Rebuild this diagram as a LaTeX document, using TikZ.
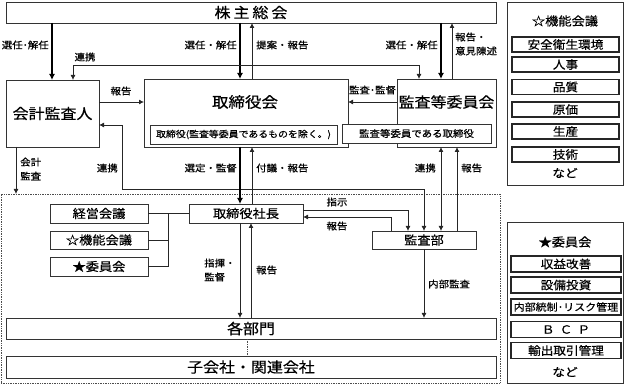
\documentclass[tikz,border=0pt]{standalone}
\usepackage{fontspec}
\setmainfont[FakeStretch=1.1,FakeBold=0.5]{Noto Sans CJK JP}
\usetikzlibrary{arrows.meta}
\newcommand\myfs[1]{\fontsize{#1}{#1}\selectfont}
\tikzset{
 bx/.style={draw=black!80, line width=0.8pt, fill=white, inner sep=0pt, outer sep=0pt, anchor=north west},
 sbi/.style={bx, draw=black!85, line width=1.1pt, font=\myfs{11.5}},
 grp/.style={draw=black!70, densely dotted, line width=0.7pt, inner sep=0pt, outer sep=0pt, anchor=north west},
 ln/.style={draw=black!85, line width=0.8pt},
 ar/.style={ln, -{Latex[length=5pt,width=5pt]}},
 da/.style={ln, {Latex[length=5pt,width=5pt]}-{Latex[length=5pt,width=5pt]}},
 tk/.style={draw=black, line width=1.8pt, -{Latex[length=6pt,width=6pt]}},
 lb/.style={font=\fontsize{9.5}{14}\selectfont, inner sep=0pt},
}
\begin{document}
\begin{tikzpicture}[x=1pt,y=-1pt]
\useasboundingbox (0,0) rectangle (625,385);
% dotted group
\node[grp, minimum width=499pt, minimum height=189pt] (grp) at (1,194) {};
% main boxes
\node[bx, minimum width=490pt, minimum height=21pt, font=\myfs{14.5}] (kabu) at (6,2) {株\hspace{3pt}主\hspace{3pt}総\hspace{3pt}会};
\node[bx, minimum width=93pt, minimum height=67pt, font=\myfs{14.5}] (kaikei) at (6,80) {会計監査人};
\node[bx, minimum width=204pt, minimum height=68pt] (torikai) at (144,79) {};
\node[font=\myfs{15}] (torikait) at (245,102) {取締役会};
\node[bx, minimum width=99pt, minimum height=68pt] (kansaiin) at (397,79) {};
\node[font=\myfs{14.5}] (kansaiint) at (446.5,102) {監査等委員会};
\node[bx, minimum width=187pt, minimum height=19pt, font=\myfs{9}] (in1) at (150,125) {取締役(監査等委員であるものを除く。)};
\node[bx, minimum width=149pt, minimum height=19pt, font=\myfs{9.5}] (in2) at (342,124) {監査等委員である取締役};
\node[bx, minimum width=114pt, minimum height=19pt, font=\myfs{12}] (shacho) at (189,204) {取締役社長};
\node[bx, minimum width=104pt, minimum height=18pt, font=\myfs{12}] (kansabu) at (372,231) {監査部};
\node[bx, minimum width=98pt, minimum height=19pt, font=\myfs{12}] (keiei) at (50,204) {経営会議};
\node[bx, minimum width=98pt, minimum height=18pt, font=\myfs{12}] (kinou) at (50,231) {☆機能会議};
\node[bx, minimum width=98pt, minimum height=19pt, font=\myfs{12}] (iinkai) at (50,257) {★委員会};
\node[bx, minimum width=490pt, minimum height=21pt, font=\myfs{14.5}] (bumon) at (6,318) {各部門};
\node[bx, minimum width=490pt, minimum height=22pt, font=\myfs{14.5}] (kogaisha) at (6,356) {子会社・関連会社};
% sidebar 1
\node[bx, minimum width=116pt, minimum height=183pt] (sb1) at (507,2) {};
\node[font=\myfs{12}] (sb1t) at (565,21) {☆機能会議};
\node[sbi, minimum width=107pt, minimum height=15pt] (s11) at (512,37) {安全衛生環境};
\node[sbi, minimum width=107pt, minimum height=15pt] (s12) at (512,57) {人事};
\node[sbi, minimum width=107pt, minimum height=15pt] (s13) at (512,79.5) {品質};
\node[sbi, minimum width=107pt, minimum height=15pt] (s14) at (512,102) {原価};
\node[sbi, minimum width=107pt, minimum height=15pt] (s15) at (512,124) {生産};
\node[sbi, minimum width=107pt, minimum height=15pt] (s16) at (512,147) {技術};
\node[font=\myfs{11.5}] (s1n) at (565,173) {など};
% sidebar 2
\node[bx, minimum width=116pt, minimum height=161pt] (sb2) at (507,222) {};
\node[font=\myfs{12}] (sb2t) at (565,242) {★委員会};
\node[sbi, minimum width=110pt, minimum height=16pt] (s21) at (511,256) {収益改善};
\node[sbi, minimum width=110pt, minimum height=16pt] (s22) at (511,277) {設備投資};
\node[sbi, minimum width=110pt, minimum height=16pt, font=\myfs{10}] (s23) at (511,299) {内部統制･リスク管理};
\node[sbi, minimum width=110pt, minimum height=16pt] (s24) at (511,321.5) {Ｂ\hspace{0.45em}Ｃ\hspace{0.45em}Ｐ};
\node[sbi, minimum width=110pt, minimum height=16pt] (s25) at (511,342.5) {輸出取引管理};
\node[font=\myfs{11.5}] (s2n) at (565,372) {など};
% connectors
\draw[tk] (kabu.south -| 52,0) -- (kaikei.north -| 52,0);
\draw[tk] (kabu.south -| 240,0) -- (torikai.north -| 240,0);
\draw[ar] (torikai.north -| 252,0) -- (kabu.south -| 252,0);
\draw[tk] (kabu.south -| 441,0) -- (kansaiin.north -| 441,0);
\draw[ar] (kansaiin.north -| 452,0) -- (kabu.south -| 452,0);
\draw[da] (kaikei.north -| 73,0) -- (73,65) -- (419,65) -- (kansaiin.north -| 419,0);
\draw[ar] (kaikei.east |- 0,102) -- (torikai.west |- 0,102);
\draw[ar] (kansaiin.west |- 0,102) -- (torikai.east |- 0,102);
\draw[ar] (kaikei.south -| 16,0) -- (grp.north -| 16,0);
\draw[da] (kaikei.east |- 0,125) -- (122,125) -- (122,189) -- (424,189) -- (kansabu.north -| 424,0);
\draw[tk] (torikai.south -| 240,0) -- (shacho.north -| 240,0);
\draw[ar] (shacho.north -| 252,0) -- (torikai.south -| 252,0);
\draw[da] (kansaiin.south -| 441,0) -- (kansabu.north -| 441,0);
\draw[ar] (kansabu.north -| 457,0) -- (kansaiin.south -| 457,0);
\draw[ar] (shacho.east |- 0,210) -- (408,210) -- (kansabu.north -| 408,0);
\draw[ar] (kansabu.north -| 391,0) -- (391,217) -- (shacho.east |- 0,217);
\draw[ar] (shacho.south -| 240,0) -- (bumon.north -| 240,0);
\draw[ar] (bumon.north -| 251,0) -- (shacho.south -| 251,0);
\draw[ar] (kansabu.south -| 424,0) -- (bumon.north -| 424,0);
\draw[ln] (keiei.east) -- (shacho.west);
\draw[ln] (kinou.east) -- (kinou.east -| 168,0);
\draw[ln] (iinkai.east) -| (keiei.east -| 168,0);
\draw[draw=black!70, densely dotted, line width=0.7pt] (bumon.south -| 247,0) -- (kogaisha.north -| 247,0);
% labels
\node[lb, anchor=east] (l1) at (49,45) {選任･解任};
\node[lb] (l2) at (85,57) {連携};
\node[lb, anchor=east] (l3) at (237,45) {選任・解任};
\node[lb, anchor=west] (l4) at (256,45) {提案・報告};
\node[lb, anchor=east] (l5) at (438,45) {選任・解任};
\node[lb, anchor=west, align=left] (l6) at (455,44) {報告・\\意見陳述};
\node[lb] (l7) at (121,91) {報告};
\node[lb] (l8) at (372.5,90) {監査･監督};
\node[lb, anchor=west, align=left] (l9) at (20,169) {会計\\監査};
\node[lb, anchor=east] (l10) at (118,168) {連携};
\node[lb, anchor=east] (l11) at (237,168) {選定・監督};
\node[lb, anchor=west] (l12) at (256,168) {付議・報告};
\node[lb, anchor=east] (l13) at (436,168) {連携};
\node[lb, anchor=west] (l14) at (461,168) {報告};
\node[lb] (l15) at (337,202) {指示};
\node[lb] (l16) at (337,226) {報告};
\node[lb, anchor=west, align=left] (l17) at (204,270) {指揮・\\監督};
\node[lb, anchor=west] (l18) at (256,270) {報告};
\node[lb, anchor=west] (l19) at (428,284) {内部監査};
\end{tikzpicture}
\end{document}
